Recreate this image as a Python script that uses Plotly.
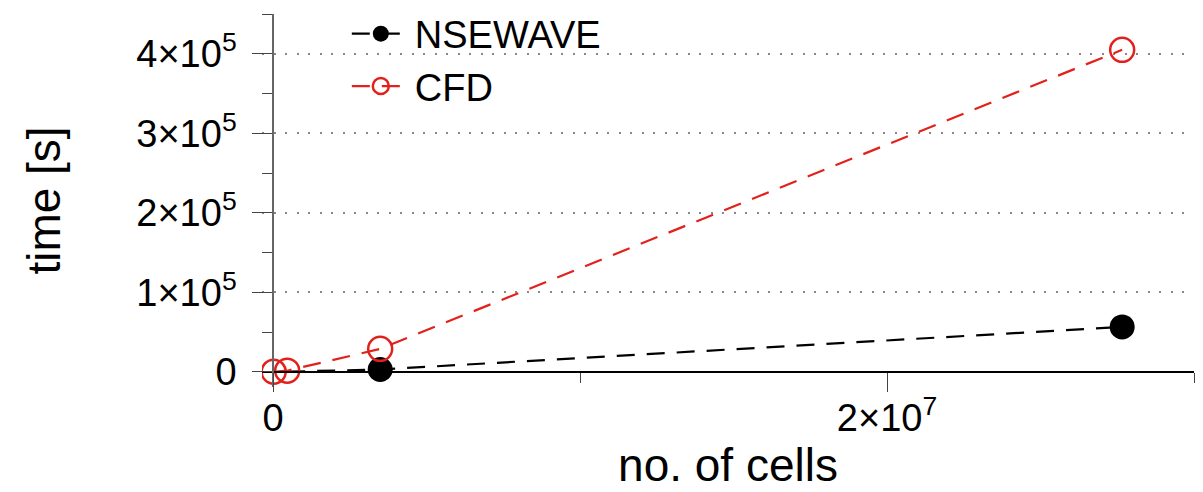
import plotly.graph_objects as go

# Run time versus mesh size
cfd_cells = [2.0e4, 4.6e5, 3.49e6, 2.766e7]
cfd_time = [200, 1500, 29000, 405000]

nsewave_cells = [4.6e5, 3.49e6, 2.766e7]
nsewave_time = [300, 3000, 56500]

y_ticks = [0, 1e5, 2e5, 3e5, 4e5]
y_ticktext = ["0", "1×10<sup>5</sup>", "2×10<sup>5</sup>", "3×10<sup>5</sup>", "4×10<sup>5</sup>"]
x_ticks = [0, 2e7]
x_ticktext = ["0", "2×10<sup>7</sup>"]

x_range = [-3.6e5, 3.0e7]
y_range = [-1.9e4, 4.5e5]

RED = "#e3211c"
FONT = "Liberation Sans"
FS = 38

fig = go.Figure()

fig.add_trace(go.Scatter(
    x=nsewave_cells, y=nsewave_time, name="NSEWAVE", legendgroup="a",
    mode="lines+markers",
    line=dict(color="black", width=2.2, dash="18px,12px"),
    marker=dict(symbol="circle", color="black", size=[0, 25, 25], opacity=1,
                line=dict(width=0)),
))
fig.add_trace(go.Scatter(
    x=cfd_cells, y=cfd_time, name="CFD", legendgroup="b",
    mode="lines+markers",
    line=dict(color=RED, width=2.2, dash="18px,12px"),
    marker=dict(symbol="circle-open", color=RED, size=24, opacity=1,
                line=dict(width=2.5, color=RED)),
))

# axes cross at the origin
x_at_zero = (0 - x_range[0]) / (x_range[1] - x_range[0])
y_at_zero = (0 - y_range[0]) / (y_range[1] - y_range[0])

fig.update_layout(
    width=1203, height=492,
    margin=dict(l=262, r=9, t=14, b=105, autoexpand=False),
    paper_bgcolor="white", plot_bgcolor="white",
    font=dict(family=FONT, size=FS, color="black"),
    showlegend=True,
    legend=dict(
        x=0.091, y=0.995, xanchor="left", yanchor="top", yref="container",
        bgcolor="rgba(0,0,0,0)", font=dict(size=FS),
        itemwidth=58, tracegroupgap=0, traceorder="grouped",
    ),
    xaxis=dict(
        range=x_range, anchor="free", position=y_at_zero,
        showline=True, linecolor="black", linewidth=1.5,
        tickvals=x_ticks, ticktext=x_ticktext,
        ticks="outside", ticklen=19, tickwidth=1.2, tickcolor="#444",
        minor=dict(dtick=1e7, tick0=0, ticks="outside", ticklen=10, tickwidth=1.2, tickcolor="#444"),
        showgrid=False, zeroline=False,
        title=dict(text="no. of cells", standoff=4),
        tickfont=dict(size=FS),
        ticklabelstandoff=-6,
    ),
    yaxis=dict(
        range=y_range, anchor="free", position=x_at_zero,
        showline=True, linecolor="#666", linewidth=1.5,
        tickvals=y_ticks, ticktext=y_ticktext,
        ticks="outside", ticklen=20, tickwidth=1.2, tickcolor="#444",
        minor=dict(dtick=5e4, tick0=0, ticks="outside", ticklen=10, tickwidth=1.2, tickcolor="#444"),
        showgrid=True, gridcolor="#888", gridwidth=2, griddash="2px,9.5px",
        zeroline=False,
        title=dict(text="time [s]", standoff=60),
        tickfont=dict(size=FS),
        ticklabelstandoff=8,
    ),
)

fig.write_html("out.html")
